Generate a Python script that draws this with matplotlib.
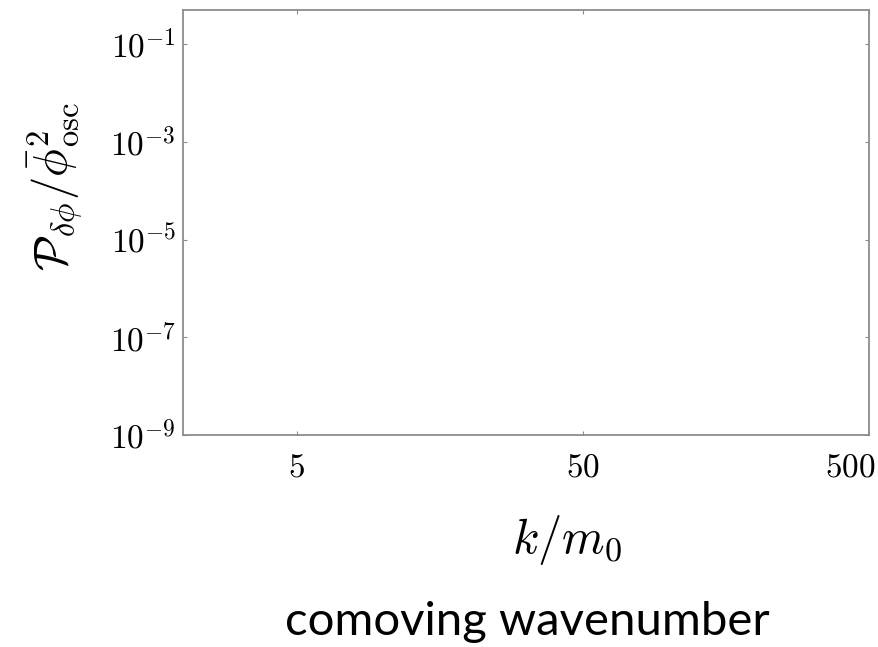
import matplotlib
matplotlib.use('Agg')
import matplotlib.pyplot as plt
import matplotlib.transforms as mtransforms

plt.rcParams['mathtext.fontset'] = 'cm'
plt.rcParams['font.family'] = ['DejaVu Sans']

# axis ranges and ticks
x_lim = [2.0, 500.0]
y_lim = [1e-9, 0.5]
x_ticks = [5, 50, 500]
x_tick_labels = [r'$5$', r'$50$', r'$500$']
y_ticks = [1e-9, 1e-7, 1e-5, 1e-3, 1e-1]
y_tick_labels = [r'$10^{-9}$', r'$10^{-7}$', r'$10^{-5}$', r'$10^{-3}$', r'$10^{-1}$']

W, H = 879, 647
fig = plt.figure(figsize=(W / 100, H / 100), dpi=100)
ax = fig.add_axes([183 / W, 1 - 435 / H, (869 - 183) / W, (435 - 10) / H])

ax.set_xscale('log')
ax.set_yscale('log')
ax.set_xlim(x_lim)
ax.set_ylim(y_lim)
ax.set_xticks(x_ticks)
ax.set_xticklabels(x_tick_labels)
ax.set_yticks(y_ticks)
ax.set_yticklabels(y_tick_labels)
ax.minorticks_off()

grey = '#8c8c8c'
for s in ax.spines.values():
    s.set_color(grey)
    s.set_linewidth(1.3)
ax.tick_params(axis='both', which='major', direction='in', length=3, width=0.8,
               color=grey, top=True, right=True, labelsize=24)
ax.tick_params(axis='x', pad=11)
ax.tick_params(axis='y', pad=5)

# last x label sits a bit to the left
lbl = ax.get_xticklabels()[-1]
lbl.set_transform(lbl.get_transform() + mtransforms.ScaledTranslation(-19 / 100, 0, fig.dpi_scale_trans))

fig.text(55 / W, 1 - 187 / H, r'$\mathcal{P}_{\delta\phi}/\bar{\phi}^2_{\rm osc}$',
         rotation=90, ha='center', va='center', fontsize=33.5)
fig.text(567 / W, 1 - 540 / H, r'$k/m_0$', ha='center', va='center', fontsize=35)
fig.text(527 / W, 1 - 622 / H, 'comoving wavenumber', ha='center', va='center',
         fontsize=34, family=['Lato', 'DejaVu Sans'])

fig.savefig('out.png', dpi=100)
